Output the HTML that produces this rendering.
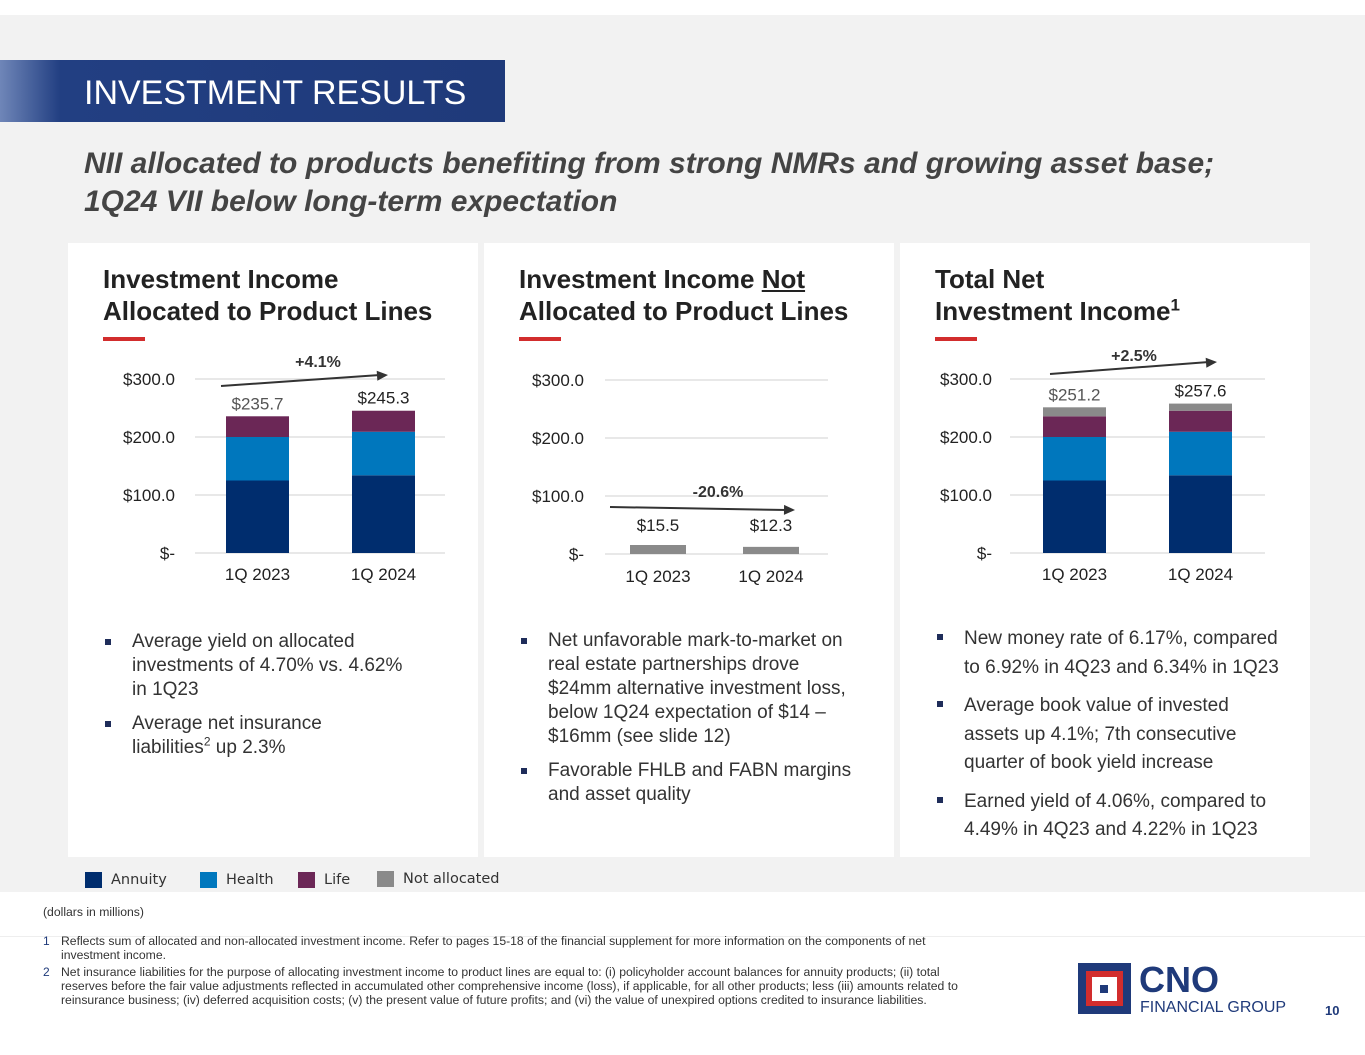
<!DOCTYPE html>
<html><head><meta charset="utf-8"><style>
body{margin:0;width:1365px;height:1055px;position:relative;background:#fff;font-family:"Liberation Sans",Arial,sans-serif;overflow:hidden}
.abs{position:absolute}
.panel{position:absolute;background:#fff;top:243px;height:614px;width:410px}
.ph{position:absolute;left:35px;top:20px;font-size:26px;font-weight:bold;color:#222;line-height:32px}
.ph sup{line-height:0;font-size:17px}
.red{position:absolute;left:35px;top:94px;width:42px;height:4px;background:#d22d2d}
ul{position:absolute;margin:0;padding:0;list-style:none;font-size:19px;color:#333}
li{position:relative;padding-left:29px;margin-bottom:10px}
li:before{content:"";position:absolute;left:2px;top:9px;width:6px;height:6px;background:#1f2d5a}
.leg{position:absolute;top:872px;font-size:14.5px;color:#333;font-family:"DejaVu Sans",sans-serif}
.sw{position:absolute;top:872px;width:17px;height:16px}
.fn{position:absolute;font-size:12.2px;color:#333;left:61px;width:910px;line-height:14px}
.fnn{position:absolute;left:43px;font-size:12px;color:#1f3a7a}
</style></head><body>
<div class="abs" style="left:0;top:15px;width:1365px;height:877px;background:#f2f2f2"></div>
<div class="abs" style="left:0;top:60px;width:505px;height:62px;background:linear-gradient(90deg,#6f86b8 0,#223f82 60px,#1f3a7a 100%)"></div>
<div class="abs" style="left:84px;top:74px;font-size:34px;color:#fff">INVESTMENT RESULTS</div>
<div class="abs" style="left:84px;top:145px;font-size:30px;font-weight:bold;font-style:italic;color:#444;line-height:38px">NII allocated to products benefiting from strong NMRs and growing asset base;<br>1Q24 VII below long-term expectation</div>

<div class="panel" style="left:68px">
<div class="ph">Investment Income<br>Allocated to Product Lines</div><div class="red"></div>
<ul style="left:35px;top:387px;width:318px;line-height:24px"><li>Average yield on allocated investments of 4.70% vs. 4.62% in 1Q23</li><li>Average net insurance<br>liabilities<sup style="font-size:12px;line-height:0">2</sup> up 2.3%</li></ul>
</div>
<div class="panel" style="left:484px">
<div class="ph">Investment Income <u>Not</u><br>Allocated to Product Lines</div><div class="red"></div>
<ul style="left:35px;top:386px;width:335px;line-height:24px"><li>Net unfavorable mark-to-market on real estate partnerships drove $24mm alternative investment loss, below 1Q24 expectation of $14 – $16mm (see slide 12)</li><li>Favorable FHLB and FABN margins and asset quality</li></ul>
</div>
<div class="panel" style="left:900px">
<div class="ph">Total Net<br>Investment Income<sup>1</sup></div><div class="red"></div>
<ul style="left:35px;top:382px;width:348px;line-height:28.5px"><li>New money rate of 6.17%, compared to 6.92% in 4Q23 and 6.34% in 1Q23</li><li>Average book value of invested assets up 4.1%; 7th consecutive quarter of book yield increase</li><li>Earned yield of 4.06%, compared to 4.49% in 4Q23 and 4.22% in 1Q23</li></ul>
</div>

<svg class="abs" style="left:0;top:0" width="1365" height="1055" id="charts"></svg>

<div class="sw" style="left:85px;background:#002d6e"></div><div class="leg" style="left:111px">Annuity</div>
<div class="sw" style="left:200px;background:#0077bd"></div><div class="leg" style="left:226px">Health</div>
<div class="sw" style="left:298px;background:#6b2756"></div><div class="leg" style="left:324px">Life</div>
<div class="sw" style="left:377px;top:871px;background:#8a8a8a"></div><div class="leg" style="left:403px;top:871px">Not allocated</div>

<div class="fn" style="left:43px;top:905px">(dollars in millions)</div>
<div class="abs" style="left:0;top:936px;width:1365px;height:1px;background:#eee"></div>
<div class="fnn" style="top:934px">1</div><div class="fn" style="top:934px">Reflects sum of allocated and non-allocated investment income. Refer to pages 15-18 of the financial supplement for more information on the components of net investment income.</div>
<div class="fnn" style="top:965px">2</div><div class="fn" style="top:965px">Net insurance liabilities for the purpose of allocating investment income to product lines are equal to: (i) policyholder account balances for annuity products; (ii) total reserves before the fair value adjustments reflected in accumulated other comprehensive income (loss), if applicable, for all other products; less (iii) amounts related to reinsurance business; (iv) deferred acquisition costs; (v) the present value of future profits; and (vi) the value of unexpired options credited to insurance liabilities.</div>

<div class="abs" style="left:1078px;top:963px;width:53px;height:51px;background:#1f3a7a"><div class="abs" style="left:8px;top:8px;width:37px;height:35px;background:#d22d2d"></div><div class="abs" style="left:14px;top:14px;width:25px;height:24px;background:#fff"></div><div class="abs" style="left:22px;top:22px;width:8px;height:8px;background:#1f3a7a"></div></div>
<div class="abs" style="left:1139px;top:959px;font-size:36px;font-weight:bold;color:#1f3a7a">CNO</div>
<div class="abs" style="left:1140px;top:999px;font-size:16px;color:#1f3a7a">FINANCIAL GROUP</div>
<div class="abs" style="left:1325px;top:1003px;font-size:13px;font-weight:bold;color:#1f3a7a">10</div>

<script>
const categories=["1Q 2023","1Q 2024"];
const annuity=[125,134];
const health=[75,75];
const life=[35.7,36.3];
const notAllocated=[15.5,12.3];
const totalsAllocated=["$235.7","$245.3"];
const totalsNot=["$15.5","$12.3"];
const totalsAll=["$251.2","$257.6"];
const ticks=[0,100,200,300];
const tickLabels=["$-","$100.0","$200.0","$300.0"];
const changes=["+4.1%","-20.6%","+2.5%"];
const NS="http://www.w3.org/2000/svg";
const svg=document.getElementById('charts');
function mk(t,a,txt){const e=document.createElementNS(NS,t);for(const k in a)e.setAttribute(k,a[k]);if(txt!=null)e.textContent=txt;svg.appendChild(e);return e;}
const colors=["#002d6e","#0077bd","#6b2756","#8a8a8a"];
const charts=[
 {x0:195,x1:445,y0:553,lab:175,bars:[226,352],bw:63,series:[annuity,health,life],totals:totalsAllocated,ch:changes[0],arr:[221,386,388,375],chy:367,chx:318,totY:null},
 {x0:605,x1:828,y0:554,lab:584,bars:[630,743],bw:56,series:[notAllocated],totals:totalsNot,ch:changes[1],arr:[610,507,795,510],chy:497,chx:718,totY:531},
 {x0:1010,x1:1265,y0:553,lab:992,bars:[1043,1169],bw:63,series:[annuity,health,life,notAllocated],totals:totalsAll,ch:changes[2],arr:[1050,374,1217,362],chy:361,chx:1134,totY:null}
];
const scale=58/100;
charts.forEach((c,ci)=>{
 const y=v=>c.y0-v*scale;
 ticks.forEach((t,i)=>{
  const l=mk('line',{x1:c.x0,x2:c.x1,y1:y(t),y2:y(t),stroke:'#d9d9d9','stroke-width':1.3});
  
  const tx=mk('text',{x:c.lab,y:y(t)+6,'font-size':17,'text-anchor':'end',fill:'#222'},tickLabels[i]);
  
 });
 categories.forEach((cat,k)=>{
  let acc=0;
  c.series.forEach((s,si)=>{
   const col=ci==1?colors[3]:colors[si];
   const r=mk('rect',{x:c.bars[k],y:y(acc+s[k]),width:c.bw,height:s[k]*scale,fill:col});
   
   acc+=s[k];
  });
  const tl=mk('text',{x:c.bars[k]+c.bw/2,y:(c.totY||y(acc)-7),'text-anchor':'middle','font-size':17,fill:(k==0&&ci!=1)?'#555':'#222'},c.totals[k]);
  
  const xl=mk('text',{x:c.bars[k]+c.bw/2,y:c.y0+(ci==1?28:27),'text-anchor':'middle','font-size':17,fill:'#222'},cat);
  
 });
 const a=c.arr;
 const ln=mk('line',{x1:a[0],y1:a[1],x2:a[2]-8,y2:a[3],stroke:'#333','stroke-width':2});
 
 const ang=Math.atan2(a[3]-a[1],a[2]-a[0]);
 const p=[[a[2],a[3]],[a[2]-11*Math.cos(ang)+5*Math.sin(ang),a[3]-11*Math.sin(ang)-5*Math.cos(ang)],[a[2]-11*Math.cos(ang)-5*Math.sin(ang),a[3]-11*Math.sin(ang)+5*Math.cos(ang)]];
 const hd=mk('polygon',{points:p.map(q=>q.join(',')).join(' '),fill:'#333'});
 
 const ct=mk('text',{x:c.chx,y:c.chy,'text-anchor':'middle','font-size':16,'font-weight':'bold',fill:'#333'},c.ch);
 
});
</script>
</body></html>
